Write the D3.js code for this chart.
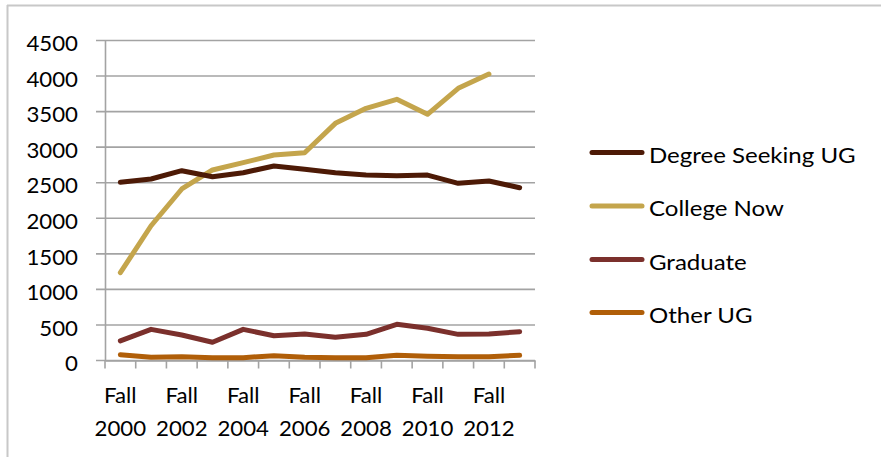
<!DOCTYPE html>
<html><head><meta charset="utf-8">
<script src="https://cdn.jsdelivr.net/npm/d3@7"></script>
<style>html,body{margin:0;padding:0;background:#fff;}svg{display:block;}</style>
</head><body>
<script>
const categories = ["Fall 2000","Fall 2001","Fall 2002","Fall 2003","Fall 2004","Fall 2005","Fall 2006","Fall 2007","Fall 2008","Fall 2009","Fall 2010","Fall 2011","Fall 2012","Fall 2013"];
const seriesNames = ["Degree Seeking UG","College Now","Graduate","Other UG"];
const degreeSeeking = [2506,2552,2669,2585,2641,2735,2688,2641,2609,2599,2608,2492,2524,2430];
const collegeNow = [1235,1895,2412,2679,2782,2890,2922,3335,3546,3673,3462,3827,4029,null];
const graduate = [277,438,359,256,438,349,373,326,368,509,453,368,373,405];
const otherUG = [82,45,54,40,40,68,45,40,40,73,59,54,54,73];
const colors = ["#4d1a06","#c4a54c","#7b302c","#b05e08"];
const yTicks = [0,500,1000,1500,2000,2500,3000,3500,4000,4500];

const W=881,H=457;
const svg=d3.select("body").append("svg").attr("width",W).attr("height",H);
const font="Lato, 'Open Sans', sans-serif";
const fs=20.2;
const axisStretch=1.1, legendStretch=1.19;

// outer border (top & left)
svg.append("line").attr("x1",7).attr("x2",W).attr("y1",5.5).attr("y2",5.5).attr("stroke","#c8c8c8").attr("stroke-width",2);
svg.append("line").attr("x1",7.5).attr("x2",7.5).attr("y1",5).attr("y2",H).attr("stroke","#c8c8c8").attr("stroke-width",2);

const x=d3.scaleBand().domain(categories).range([105,535]);
const y=d3.scaleLinear().domain([0,4500]).range([360.5,40.5]);

// gridlines
svg.append("g").selectAll("line").data(yTicks).join("line")
  .attr("x1",96).attr("x2",535).attr("y1",d=>y(d)).attr("y2",d=>y(d))
  .attr("stroke","#a3a3a3").attr("stroke-width",1.6);

// y axis
const ya=svg.append("g").attr("transform","translate(105,0)")
  .call(d3.axisLeft(y).tickValues(yTicks).tickSize(0).tickFormat(d3.format("d")));
ya.select(".domain").attr("stroke","#a3a3a3").attr("stroke-width",1.6);
ya.selectAll(".tick text").attr("x",0).attr("dy",null).attr("y",10.2)
  .attr("transform","translate(-27,0) scale("+axisStretch+",1)")
  .attr("font-family",font).attr("font-size",fs).attr("fill","#000");

// x axis
const xa=svg.append("g").attr("transform","translate(0,360.5)")
  .call(d3.axisBottom(x).tickSizeOuter(0).tickSizeInner(0).tickFormat(""));
xa.select(".domain").attr("stroke","#a3a3a3").attr("stroke-width",1.6);
xa.selectAll(".tick").remove();
const bounds=categories.map(c=>x(c)).concat([x.range()[1]]);
xa.append("g").selectAll("line").data(bounds).join("line")
  .attr("x1",d=>d).attr("x2",d=>d).attr("y1",0).attr("y2",8)
  .attr("stroke","#a3a3a3").attr("stroke-width",1.6);
const labG=svg.append("g");
categories.forEach((c,i)=>{
  if(i%2!==0) return;
  const parts=c.split(" ");
  const cx=x(c)+x.bandwidth()/2;
  const t=labG.append("text").attr("transform","translate("+cx+",0) scale("+axisStretch+",1)")
    .attr("text-anchor","middle").attr("font-family",font).attr("font-size",fs).attr("fill","#000");
  t.append("tspan").attr("x",0).attr("y",403.3).text(parts[0]);
  t.append("tspan").attr("x",0).attr("y",436).text(parts[1]);
});

// lines
const data=[degreeSeeking,collegeNow,graduate,otherUG];
const line=d3.line().defined(d=>d!=null).x((d,i)=>x(categories[i])+x.bandwidth()/2).y(d=>y(d));
const drawOrder=[3,2,1,0];
drawOrder.forEach(k=>{
  svg.append("path").datum(data[k]).attr("d",line).attr("fill","none")
    .attr("stroke",colors[k]).attr("stroke-width",5).attr("stroke-linecap","round").attr("stroke-linejoin","round");
});

// legend
const legY=[152.5,206,259.5,312.5];
seriesNames.forEach((n,i)=>{
  svg.append("line").attr("x1",592).attr("x2",642).attr("y1",legY[i]).attr("y2",legY[i])
    .attr("stroke",colors[i]).attr("stroke-width",5).attr("stroke-linecap","round");
  svg.append("text").attr("transform","translate(649,"+(legY[i]+10)+") scale("+legendStretch+",1)")
    .attr("font-family",font).attr("font-size",fs).attr("fill","#000").text(n);
});
</script>
</body></html>
